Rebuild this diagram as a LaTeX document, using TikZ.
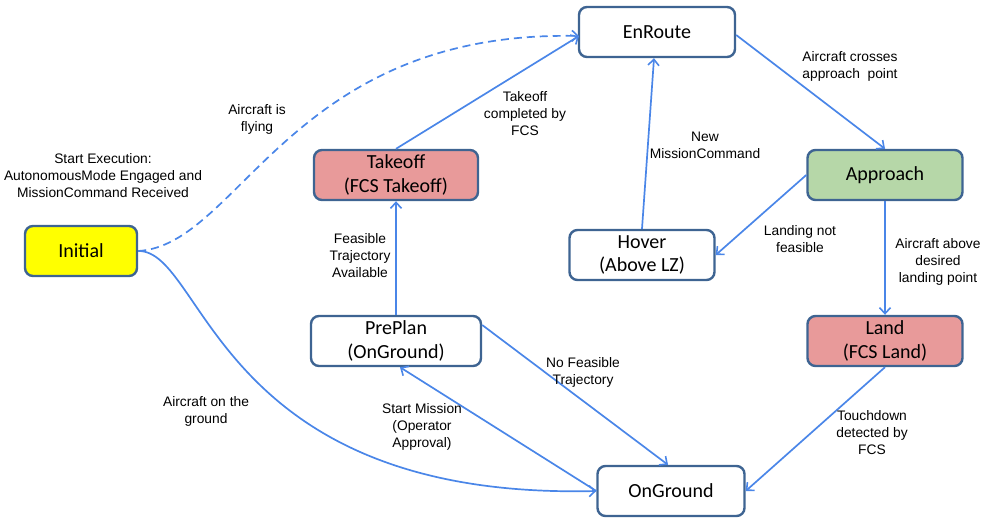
\documentclass[tikz,border=0pt]{standalone}
\usepackage{fontspec}
\setmainfont{Liberation Sans}
\newfontfamily\boxfont{Carlito}
\usetikzlibrary{arrows.meta,calc}
\definecolor{bordc}{HTML}{3E6492}
\definecolor{edgec}{HTML}{4A86E8}
\definecolor{yel}{HTML}{FFFF00}
\definecolor{redf}{HTML}{E89A9A}
\definecolor{grnf}{HTML}{B6D7A8}
\tikzset{
  state/.style={draw=bordc, line width=2.4pt, rounded corners=8pt, minimum height=50pt, align=center, inner sep=0pt, font=\boxfont\fontsize{20}{23.5}\selectfont},
  edge/.style={draw=edgec, line width=1.7pt, -{Straight Barb[length=6pt,width=11pt,line width=1.6pt]}},
  lbl/.style={align=center, font=\fontsize{13.8}{17}\selectfont, inner sep=0pt}
}
\begin{document}
\begin{tikzpicture}[x=1pt,y=-1pt]
\useasboundingbox (0,0) rectangle (985,517);
\node[state, fill=yel, minimum width=112pt] (init) at (81,251) {Initial};
\node[state, fill=white, minimum width=156pt] (enr) at (657,32) {EnRoute};
\node[state, fill=redf, minimum width=164pt] (tko) at (396,175) {Takeoff\\(FCS Takeoff)};
\node[state, fill=grnf, minimum width=155pt] (app) at (885,175) {Approach};
\node[state, fill=white, minimum width=145pt] (hov) at (642,255) {Hover\\(Above LZ)};
\node[state, fill=white, minimum width=170pt] (pre) at (396,341) {PrePlan\\(OnGround)};
\node[state, fill=redf, minimum width=155pt] (land) at (885,341) {Land\\(FCS Land)};
\node[state, fill=white, minimum width=147pt] (ong) at (671,491) {OnGround};

\coordinate (enrL) at (579,36);
\draw[edge, dashed, dash pattern=on 8pt off 5pt] (init.east) .. controls (240,245) and (290,30) .. (enrL);
\draw[edge] (tko.north) -- (enrL);
\draw[edge] (hov.north) -- ($(enr.south)+(-3,0)$);
\draw[edge] ($(enr.east)+(0,3)$) -- (app.north);
\draw[edge] (app.west) -- (hov.east);
\draw[edge] (app.south) -- (land.north);
\draw[edge] (pre.north) -- (tko.south);
\draw[edge] ($(pre.east)+(0,-16)$) -- ($(ong.north)+(-3,0)$);
\draw[edge] (ong.west) -- ($(pre.south)+(4,0)$);
\draw[edge] (init.east) .. controls (205,250) and (215,500) .. (ong.west);
\draw[edge] (land.south) -- (ong.east);

\node[lbl] (l1) at (103,176) {Start Execution:\\AutonomousMode Engaged and\\MissionCommand Received};
\node[lbl] (l2) at (257,119) {Aircraft is\\flying};
\node[lbl] (l3) at (525,114) {Takeoff\\completed by\\FCS};
\node[lbl] (l4) at (705,145) {New\\MissionCommand};
\node[lbl] (l5) at (850,66) {Aircraft crosses\\approach\ \ point};
\node[lbl] (l6) at (800,239) {Landing not\\feasible};
\node[lbl] (l7) at (938,262) {Aircraft above\\desired\\landing point};
\node[lbl] (l8) at (360,256) {Feasible\\Trajectory\\Available};
\node[lbl] (l9) at (583,372) {No Feasible\\Trajectory};
\node[lbl] (l10) at (422,427) {Start Mission\\(Operator\\Approval)};
\node[lbl] (l11) at (206,411) {Aircraft on the\\ground};
\node[lbl] (l12) at (872,433) {Touchdown\\detected by\\FCS};
\end{tikzpicture}
\end{document}
